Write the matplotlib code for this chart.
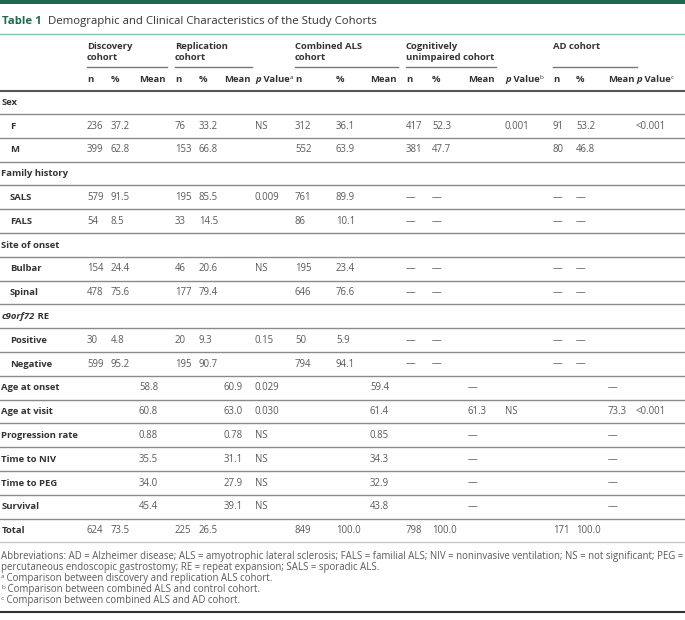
import matplotlib
matplotlib.use("Agg")
import matplotlib.pyplot as plt

plt.rcParams['font.family'] = ['Open Sans', 'DejaVu Sans']

# ---- table content ----
row_labels = ["Sex", "F", "M", "Family history", "SALS", "FALS", "Site of onset",
              "Bulbar", "Spinal", "c9orf72 RE", "Positive", "Negative",
              "Age at onset", "Age at visit", "Progression rate", "Time to NIV",
              "Time to PEG", "Survival", "Total"]
indented = [False, True, True, False, True, True, False, True, True, False,
            True, True, False, False, False, False, False, False, False]

D = "\u2014"
disc_n = ["", "236", "399", "", "579", "54", "", "154", "478", "", "30", "599", "", "", "", "", "", "", "624"]
disc_pct = ["", "37.2", "62.8", "", "91.5", "8.5", "", "24.4", "75.6", "", "4.8", "95.2", "", "", "", "", "", "", "73.5"]
disc_mean = ["", "", "", "", "", "", "", "", "", "", "", "", "58.8", "60.8", "0.88", "35.5", "34.0", "45.4", ""]
rep_n = ["", "76", "153", "", "195", "33", "", "46", "177", "", "20", "195", "", "", "", "", "", "", "225"]
rep_pct = ["", "33.2", "66.8", "", "85.5", "14.5", "", "20.6", "79.4", "", "9.3", "90.7", "", "", "", "", "", "", "26.5"]
rep_mean = ["", "", "", "", "", "", "", "", "", "", "", "", "60.9", "63.0", "0.78", "31.1", "27.9", "39.1", ""]
p_a = ["", "NS", "", "", "0.009", "", "", "NS", "", "", "0.15", "", "0.029", "0.030", "NS", "NS", "NS", "NS", ""]
comb_n = ["", "312", "552", "", "761", "86", "", "195", "646", "", "50", "794", "", "", "", "", "", "", "849"]
comb_pct = ["", "36.1", "63.9", "", "89.9", "10.1", "", "23.4", "76.6", "", "5.9", "94.1", "", "", "", "", "", "", "100.0"]
comb_mean = ["", "", "", "", "", "", "", "", "", "", "", "", "59.4", "61.4", "0.85", "34.3", "32.9", "43.8", ""]
cog_n = ["", "417", "381", "", D, D, "", D, D, "", D, D, "", "", "", "", "", "", "798"]
cog_pct = ["", "52.3", "47.7", "", D, D, "", D, D, "", D, D, "", "", "", "", "", "", "100.0"]
cog_mean = ["", "", "", "", "", "", "", "", "", "", "", "", D, "61.3", D, D, D, D, ""]
p_b = ["", "0.001", "", "", "", "", "", "", "", "", "", "", "", "NS", "", "", "", "", ""]
ad_n = ["", "91", "80", "", D, D, "", D, D, "", D, D, "", "", "", "", "", "", "171"]
ad_pct = ["", "53.2", "46.8", "", D, D, "", D, D, "", D, D, "", "", "", "", "", "", "100.0"]
ad_mean = ["", "", "", "", "", "", "", "", "", "", "", "", D, "73.3", D, D, D, D, ""]
p_c = ["", "<0.001", "", "", "", "", "", "", "", "", "", "", "", "<0.001", "", "", "", "", ""]

groups = [("Discovery", "cohort"), ("Replication", "cohort"), ("Combined ALS", "cohort"),
          ("Cognitively", "unimpaired cohort"), ("AD cohort", "")]

footnotes = [
    ("", "Abbreviations: AD = Alzheimer disease; ALS = amyotrophic lateral sclerosis; FALS = familial ALS; "
         "NIV = noninvasive ventilation; NS = not significant; PEG ="),
    ("", "percutaneous endoscopic gastrostomy; RE = repeat expansion; SALS = sporadic ALS."),
    ("a", " Comparison between discovery and replication ALS cohort."),
    ("b", " Comparison between combined ALS and control cohort."),
    ("c", " Comparison between combined ALS and AD cohort."),
]

# ---- layout (pixels) ----
GREEN = "#1d6b4e"
TXT = "#333333"
VAL = "#5a5a5a"
FS = 6.8      # bold labels / headers
FV = 6.9      # values
FF = 6.9      # footnotes

col_x = {"disc_n": 87, "disc_pct": 111, "disc_mean": 139, "rep_n": 175, "rep_pct": 199,
         "rep_mean": 224, "p_a": 255, "comb_n": 295, "comb_pct": 336, "comb_mean": 370,
         "cog_n": 406, "cog_pct": 432, "cog_mean": 468, "p_b": 505, "ad_n": 553,
         "ad_pct": 576, "ad_mean": 608, "p_c": 636}
columns = [("disc_n", disc_n), ("disc_pct", disc_pct), ("disc_mean", disc_mean),
           ("rep_n", rep_n), ("rep_pct", rep_pct), ("rep_mean", rep_mean), ("p_a", p_a),
           ("comb_n", comb_n), ("comb_pct", comb_pct), ("comb_mean", comb_mean),
           ("cog_n", cog_n), ("cog_pct", cog_pct), ("cog_mean", cog_mean), ("p_b", p_b),
           ("ad_n", ad_n), ("ad_pct", ad_pct), ("ad_mean", ad_mean), ("p_c", p_c)]
group_span = [(87, 167), (175, 252), (295, 398), (406, 496), (553, 637)]

fig = plt.figure(figsize=(6.85, 6.2), dpi=100)
ax = fig.add_axes([0, 0, 1, 1])
ax.set_xlim(0, 685)
ax.set_ylim(620, 0)
ax.axis("off")
renderer = fig.canvas.get_renderer()


def runs(x, y, parts, **common):
    # draws pieces of text one after another on the same baseline
    for s, kw in parts:
        opts = dict(common)
        opts.update(kw)
        dy = opts.pop("dy", 0)
        t = ax.text(x, y + dy, s, va="baseline", ha="left", **opts)
        x += t.get_window_extent(renderer).width
    return x


# top bar and title
ax.fill_between([0, 685], 0, 4, color=GREEN, lw=0)
runs(2, 24, [("Table 1", dict(color=GREEN, fontweight="bold")),
             ("  Demographic and Clinical Characteristics of the Study Cohorts", dict(color=TXT))],
     fontsize=8.2)
ax.plot([0, 685], [34, 34], color="#86bfa8", lw=1.0)

# group headers
for (l1, l2), (x0, x1) in zip(groups, group_span):
    ax.text(x0, 49, l1, fontsize=FS, fontweight="bold", color=TXT, va="baseline")
    if l2:
        ax.text(x0, 60, l2, fontsize=FS, fontweight="bold", color=TXT, va="baseline")
    ax.plot([x0, x1], [67, 67], color="#777777", lw=1.0)

# sub headers
for key in ["disc", "rep", "comb", "cog", "ad"]:
    ax.text(col_x[key + "_n"], 82, "n", fontsize=FS, fontweight="bold", color=TXT, va="baseline")
    ax.text(col_x[key + "_pct"], 82, "%", fontsize=FS, fontweight="bold", color=TXT, va="baseline")
    ax.text(col_x[key + "_mean"], 82, "Mean", fontsize=FS, fontweight="bold", color=TXT,
            va="baseline")
for key, sup in [("p_a", "a"), ("p_b", "b"), ("p_c", "c")]:
    runs(col_x[key], 82, [("p", dict(fontstyle="italic")), (" Value", {}),
                          (sup, dict(fontsize=4.6, dy=-3, fontweight="normal"))],
         fontsize=FS, fontweight="bold", color=TXT)
ax.plot([0, 685], [91, 91], color="#555555", lw=1.5)

# body rows
y0, pitch = 102, 23.8
for i, label in enumerate(row_labels):
    y = y0 + i * pitch
    base = y + 2.8
    lx = 10 if indented[i] else 1.5
    if label.startswith("c9orf72"):
        runs(lx, base, [("c9orf72", dict(fontstyle="italic")), (" RE", {})],
             fontsize=FS, fontweight="bold", color=TXT)
    else:
        ax.text(lx, base, label, fontsize=FS, fontweight="bold", color=TXT, va="baseline")
    for key, vals in columns:
        v = vals[i]
        if v:
            ax.text(col_x[key], base, v, fontsize=FV, color=VAL, va="baseline")
    sep = y + pitch / 2
    last = i == len(row_labels) - 1
    ax.plot([0, 685], [sep, sep], color="#c8c8c8" if last else "#8a8a8a", lw=1.0)

# footnotes
fy = 559
for sup, line in footnotes:
    if sup:
        runs(1, fy, [(sup, dict(fontsize=4.6, dy=-2.8)), (line, {})], fontsize=FF, color=VAL)
    else:
        ax.text(1, fy, line, fontsize=FF, color=VAL, va="baseline")
    fy += 11
ax.plot([0, 685], [612, 612], color="#333333", lw=1.5)

fig.savefig("out.png", dpi=100)
